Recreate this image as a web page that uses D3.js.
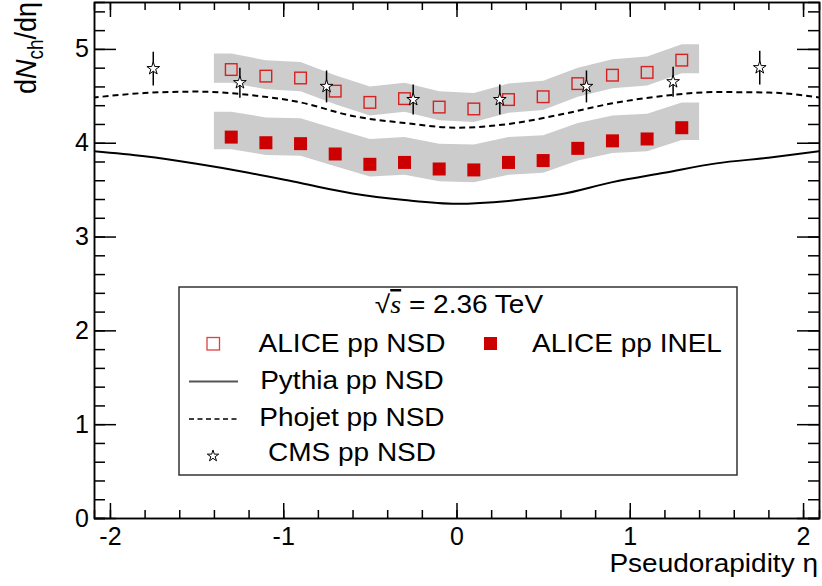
<!DOCTYPE html>
<html>
<head>
<meta charset="utf-8">
<script src="https://cdn.jsdelivr.net/npm/d3@7"></script>
<style>
  body { margin: 0; background: #fff; }
  svg { display: block; font-family: 'Liberation Sans', Arial, Helvetica, sans-serif; }
</style>
</head>
<body>
<svg class="chart" width="822" height="586"></svg>
<script>
// ALICE bin centres and values
const aliceEta = [-1.3, -1.1, -0.9, -0.7, -0.5, -0.3, -0.1, 0.1, 0.3, 0.5, 0.7, 0.9, 1.1, 1.3];
const aliceNsd = [4.78, 4.71, 4.69, 4.55, 4.43, 4.47, 4.38, 4.36, 4.46, 4.49, 4.63, 4.72, 4.75, 4.88];
const aliceInel = [4.06, 4.00, 3.99, 3.88, 3.77, 3.79, 3.72, 3.71, 3.79, 3.81, 3.94, 4.02, 4.04, 4.16];
// systematic errors [up, down]
const nsdSyst = [0.17, 0.14];
const inelSyst = [0.27, 0.13];
const bandEdges = [-1.4, 1.4];

// CMS points
const cmsEta = [-1.75, -1.25, -0.75, -0.25, 0.25, 0.75, 1.25, 1.75];
const cmsNsd = [4.79, 4.64, 4.60, 4.46, 4.46, 4.60, 4.65, 4.80];
const cmsErr = [0.18, 0.16, 0.17, 0.16, 0.16, 0.17, 0.16, 0.18];

// MC curves
const modelEta = [-2.1, -1.8, -1.5, -1.2, -0.9, -0.6, -0.3, 0, 0.3, 0.6, 0.9, 1.2, 1.5, 1.8, 2.1];
const pythia = [3.91, 3.855, 3.775, 3.68, 3.57, 3.46, 3.39, 3.35, 3.38, 3.45, 3.58, 3.68, 3.78, 3.84, 3.91];
const phojet = [4.48, 4.53, 4.545, 4.51, 4.43, 4.285, 4.21, 4.16, 4.20, 4.30, 4.42, 4.50, 4.54, 4.535, 4.48];

// axis ticks
const xTicks = [-2, -1, 0, 1, 2];
const yTicks = [0, 1, 2, 3, 4, 5];
const xMinor = d3.range(-20, 21, 2).map(d => d / 10);
const yMinor = d3.range(0, 28, 1).map(d => d / 5);

const svg = d3.select('.chart');
const width = +svg.attr('width');
const height = +svg.attr('height');
const margin = { top: 2, right: 3, bottom: 68, left: 94 };
const innerWidth = width - margin.left - margin.right;
const innerHeight = height - margin.top - margin.bottom;
// horizontal stretch of the lettering
const sx = 1.12;
const red = '#cc0000';

const xScale = d3.scaleLinear()
    .domain([-2.092, 2.092])
    .range([0, innerWidth]);

const yScale = d3.scaleLinear()
    .domain([0, 5.5])
    .range([innerHeight, 0]);

const g = svg.append('g')
    .attr('transform', `translate(${margin.left}, ${margin.top})`);

g.append('clipPath').attr('id', 'plot-clip')
    .append('rect')
    .attr('width', innerWidth)
    .attr('height', innerHeight);

//widens a text by sx through textLength
function widen(sel){
    sel.each(function(){
        const w = this.getComputedTextLength();
        d3.select(this)
            .attr('textLength', w * sx)
            .attr('lengthAdjust', 'spacingAndGlyphs');
    });
    return sel;
}

drawBands();
drawCurves();
drawAlice();
drawCms();
drawAxes();
drawLegend();

function drawBands(){
    [[aliceNsd, nsdSyst], [aliceInel, inelSyst]].forEach(([vals, syst]) => {
        const pts = aliceEta.map((e, i) => ({ eta: e, v: vals[i] }));
        pts.unshift({ eta: bandEdges[0], v: vals[0] });
        pts.push({ eta: bandEdges[1], v: vals[vals.length - 1] });
        const area = d3.area()
            .x(d => xScale(d.eta))
            .y0(d => yScale(d.v - syst[1]))
            .y1(d => yScale(d.v + syst[0]));
        g.append('path')
            .datum(pts)
            .attr('d', area)
            .attr('fill', '#cccccc');
    });
}

function drawCurves(){
    const line = d3.line()
        .x(d => xScale(d[0]))
        .y(d => yScale(d[1]))
        .curve(d3.curveMonotoneX);
    const curves = g.append('g').attr('clip-path', 'url(#plot-clip)');
    curves.append('path')
        .datum(modelEta.map((e, i) => [e, pythia[i]]))
        .attr('d', line)
        .attr('fill', 'none')
        .attr('stroke', '#000')
        .attr('stroke-width', 2);
    curves.append('path')
        .datum(modelEta.map((e, i) => [e, phojet[i]]))
        .attr('d', line)
        .attr('fill', 'none')
        .attr('stroke', '#000')
        .attr('stroke-width', 2)
        .attr('stroke-dasharray', '6,4');
}

function drawAlice(){
    const s = 13;
    g.append('g')
        .selectAll('rect')
        .data(aliceEta.map((e, i) => ({ eta: e, v: aliceInel[i] })))
        .join('rect')
        .attr('x', d => xScale(d.eta) - s / 2)
        .attr('y', d => yScale(d.v) - s / 2)
        .attr('width', s)
        .attr('height', s)
        .attr('fill', red);
    g.append('g')
        .selectAll('rect')
        .data(aliceEta.map((e, i) => ({ eta: e, v: aliceNsd[i] })))
        .join('rect')
        .attr('x', d => xScale(d.eta) - s / 2 + 0.7)
        .attr('y', d => yScale(d.v) - s / 2 + 0.7)
        .attr('width', s - 1.4)
        .attr('height', s - 1.4)
        .attr('fill', 'none')
        .attr('stroke', '#d82020')
        .attr('stroke-width', 1.4);
}

function drawCms(){
    const pts = cmsEta.map((e, i) => ({ eta: e, v: cmsNsd[i], err: cmsErr[i] }));
    const grp = g.append('g');
    grp.selectAll('line')
        .data(pts)
        .join('line')
        .attr('x1', d => xScale(d.eta))
        .attr('x2', d => xScale(d.eta))
        .attr('y1', d => yScale(d.v - d.err))
        .attr('y2', d => yScale(d.v + d.err))
        .attr('stroke', '#000')
        .attr('stroke-width', 1.5);
    grp.selectAll('path')
        .data(pts)
        .join('path')
        .attr('d', d3.symbol(d3.symbolStar, 50))
        .attr('transform', d => `translate(${xScale(d.eta)}, ${yScale(d.v)})`)
        .attr('fill', '#fff')
        .attr('stroke', '#000')
        .attr('stroke-width', 1);
}

function styleAxis(a, keepText){
    a.attr('font-size', 25).attr('font-family', null);
    a.selectAll('line, path').attr('stroke', '#000').attr('stroke-width', 1.5);
    if(!keepText) a.selectAll('text').remove();
    return a;
}

function drawAxes(){
    //minor ticks on all four sides
    styleAxis(g.append('g').attr('transform', `translate(0, ${innerHeight})`)
        .call(d3.axisBottom(xScale).tickValues(xMinor).tickSize(-8)));
    styleAxis(g.append('g')
        .call(d3.axisTop(xScale).tickValues(xMinor).tickSize(-8)));
    styleAxis(g.append('g')
        .call(d3.axisLeft(yScale).tickValues(yMinor).tickSize(-11)));
    styleAxis(g.append('g').attr('transform', `translate(${innerWidth}, 0)`)
        .call(d3.axisRight(yScale).tickValues(yMinor).tickSize(-11)));

    //major ticks with labels
    styleAxis(g.append('g').attr('transform', `translate(0, ${innerHeight})`)
        .call(d3.axisBottom(xScale).tickValues(xTicks).tickFormat(d => String(d))
            .tickSizeInner(-15).tickSizeOuter(0).tickPadding(9)), true);

    styleAxis(g.append('g')
        .call(d3.axisLeft(yScale).tickValues(yTicks).tickFormat(d => String(d))
            .tickSizeInner(-22).tickSizeOuter(0).tickPadding(5)), true);

    styleAxis(g.append('g')
        .call(d3.axisTop(xScale).tickValues(xTicks).tickSizeInner(-15).tickSizeOuter(0)));
    styleAxis(g.append('g').attr('transform', `translate(${innerWidth}, 0)`)
        .call(d3.axisRight(yScale).tickValues(yTicks).tickSizeInner(-22).tickSizeOuter(0)));

    //axis titles
    widen(svg.append('text')
        .attr('x', margin.left + innerWidth - 1)
        .attr('y', 572)
        .attr('text-anchor', 'end')
        .attr('font-size', 25)
        .text('Pseudorapidity η'));

    const yt = svg.append('text')
        .attr('transform', `translate(36, 2) rotate(-90) scale(1, ${sx})`)
        .attr('text-anchor', 'end')
        .attr('font-size', 27);
    yt.append('tspan').text('d');
    yt.append('tspan').attr('font-style', 'italic').text('N');
    yt.append('tspan').attr('font-size', 19).attr('dy', 6).text('ch');
    yt.append('tspan').attr('dy', -6).text('/dη');
}

function drawLegend(){
    const lg = svg.append('g');
    lg.append('rect')
        .attr('x', 179).attr('y', 287)
        .attr('width', 558).attr('height', 188)
        .attr('fill', '#fff')
        .attr('stroke', '#333')
        .attr('stroke-width', 1.5);

    const title = lg.append('text')
        .attr('x', 459)
        .attr('y', 313)
        .attr('text-anchor', 'middle')
        .attr('font-size', 25);
    title.append('tspan').text('√');
    title.append('tspan')
        .attr('font-family', "'Liberation Serif', serif")
        .attr('font-style', 'italic')
        .attr('text-decoration', 'overline')
        .text('s');
    title.append('tspan').text(' = 2.36 TeV');
    widen(title);

    const label = (x, y, txt) => widen(lg.append('text')
        .attr('x', x)
        .attr('y', y)
        .attr('text-anchor', 'middle')
        .attr('font-size', 25)
        .text(txt));

    //open square
    lg.append('rect').attr('x', 207).attr('y', 337.5).attr('width', 12.5).attr('height', 12.5)
        .attr('fill', 'none').attr('stroke', '#e04040').attr('stroke-width', 1.3);
    label(352, 352, 'ALICE pp NSD');
    //filled square
    lg.append('rect').attr('x', 484).attr('y', 337).attr('width', 13).attr('height', 13)
        .attr('fill', red);
    label(627, 352, 'ALICE pp INEL');
    //pythia
    lg.append('line').attr('x1', 189).attr('x2', 238).attr('y1', 381.5).attr('y2', 381.5)
        .attr('stroke', '#555').attr('stroke-width', 2);
    label(352, 389, 'Pythia pp NSD');
    //phojet
    lg.append('line').attr('x1', 189).attr('x2', 238).attr('y1', 419).attr('y2', 419)
        .attr('stroke', '#000').attr('stroke-width', 1.3).attr('stroke-dasharray', '5,3.5');
    label(352, 426, 'Phojet pp NSD');
    //cms
    lg.append('path')
        .attr('d', d3.symbol(d3.symbolStar, 40))
        .attr('transform', 'translate(213, 456)')
        .attr('fill', '#fff').attr('stroke', '#000').attr('stroke-width', 1);
    label(352, 461, 'CMS pp NSD');
}
</script>
</body>
</html>
